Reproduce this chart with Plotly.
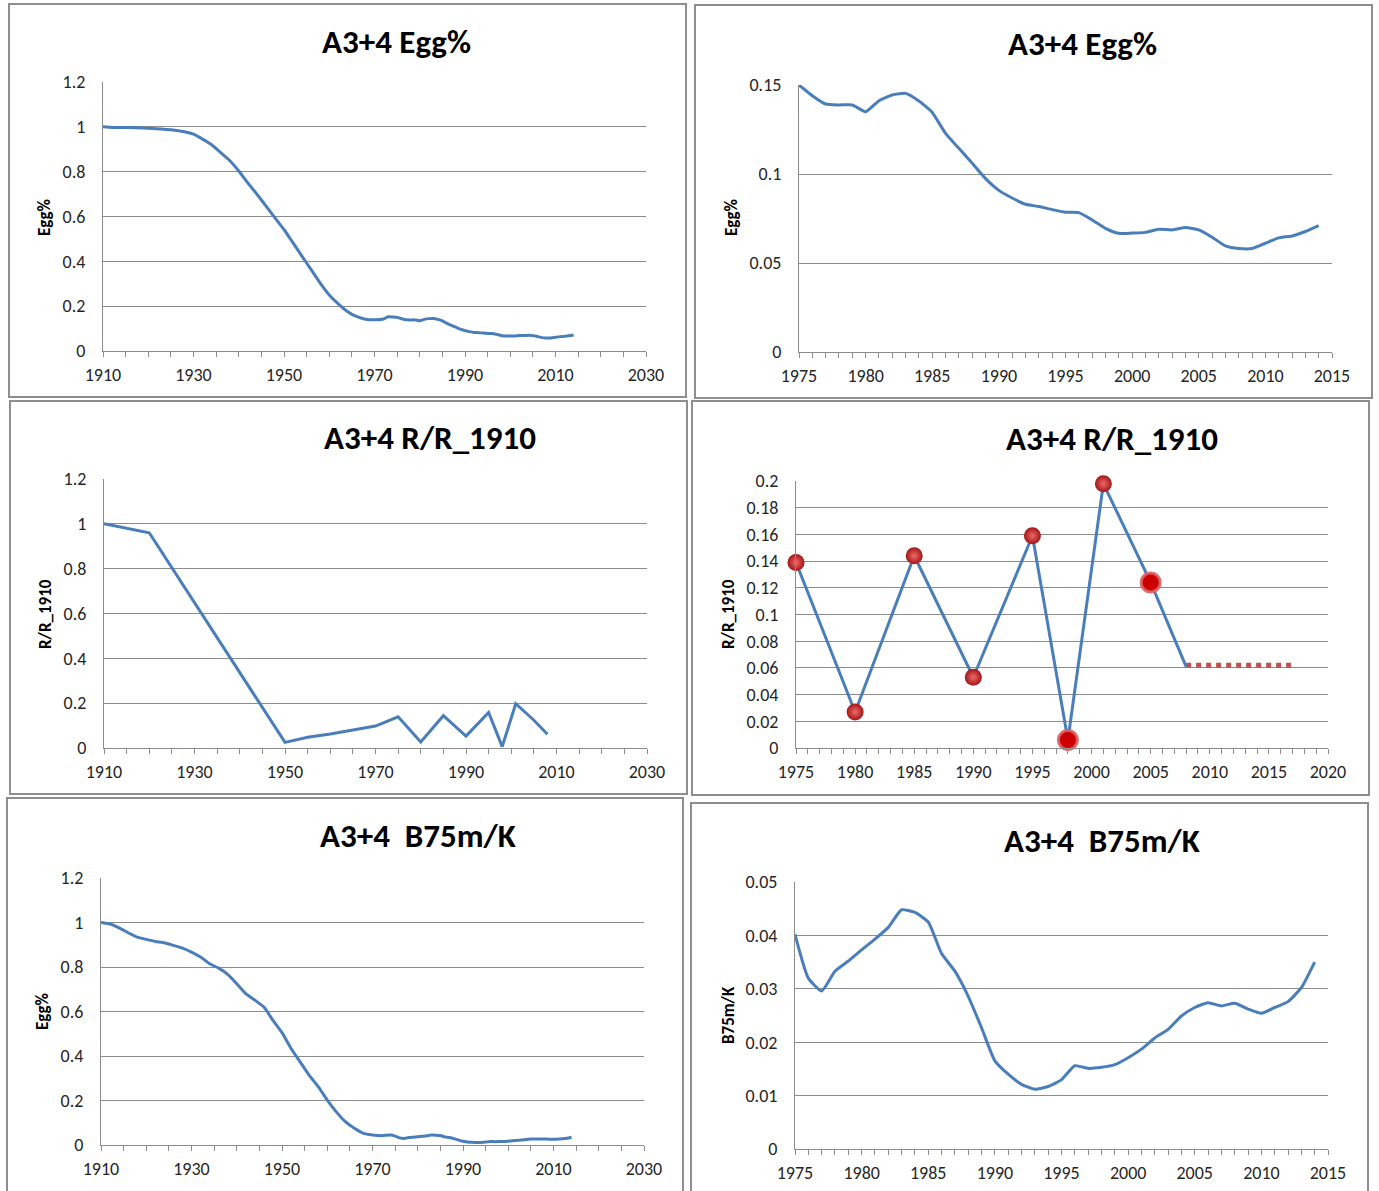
import plotly.graph_objects as go

# ---------------- data ----------------
# Egg% (relative to 1910), early part read every ~2 years
egg_years_early = [1910, 1912, 1915, 1920, 1923, 1925, 1928, 1930, 1932, 1934, 1936, 1938,
                   1940, 1942, 1944, 1946, 1948, 1950, 1952, 1954, 1956, 1958, 1960, 1962,
                   1964, 1966, 1968, 1970, 1972, 1973, 1974]
egg_vals_early = [1.0, 0.997, 0.997, 0.994, 0.99, 0.987, 0.978, 0.967, 0.945, 0.92, 0.885, 0.85,
                  0.803, 0.75, 0.70, 0.647, 0.594, 0.542, 0.482, 0.422, 0.363, 0.303, 0.25, 0.21,
                  0.176, 0.154, 0.142, 0.139, 0.143, 0.153, 0.152]
egg_years_recent = list(range(1975, 2015))
egg_vals_recent = [0.150, 0.144, 0.1393, 0.1388, 0.1388, 0.135, 0.1412, 0.1444, 0.1453, 0.141,
                   0.1346, 0.1228, 0.1144, 0.106, 0.0974, 0.0908, 0.0865, 0.083, 0.0817, 0.080,
                   0.0785, 0.0783, 0.0742, 0.0695, 0.0667, 0.0668, 0.0672, 0.069, 0.0686, 0.0699,
                   0.0686, 0.0645, 0.0596, 0.0581, 0.0581, 0.0611, 0.0641, 0.0652, 0.0677, 0.071]

# R/R_1910
rr_years_early = [1910, 1920, 1950, 1955, 1960, 1965, 1970]
rr_vals_early = [1.0, 0.96, 0.025, 0.048, 0.062, 0.079, 0.098]
rr_years_recent = [1975, 1980, 1985, 1990, 1995, 1998, 2001, 2005, 2008]
rr_vals_recent = [0.139, 0.027, 0.144, 0.053, 0.159, 0.006, 0.198, 0.124, 0.061]
rr_marker_years = [1975, 1980, 1985, 1990, 1995, 1998, 2001, 2005]
rr_marker_vals = [0.139, 0.027, 0.144, 0.053, 0.159, 0.006, 0.198, 0.124]
rr_flat_marker_years = [1998, 2005]
rr_dotted_years = [2008, 2017]
rr_dotted_vals = [0.062, 0.062]

# B75m/K
b75_years_early = [1910, 1912, 1914, 1916, 1918, 1920, 1922, 1924, 1926, 1928, 1930, 1932,
                   1934, 1936, 1938, 1940, 1942, 1944, 1946, 1948, 1950, 1952, 1954, 1956,
                   1958, 1960, 1962, 1964, 1966, 1968, 1970, 1972, 1974]
b75_vals_early = [1.0, 0.993, 0.976, 0.954, 0.934, 0.924, 0.915, 0.909, 0.897, 0.885, 0.867, 0.845,
                  0.815, 0.795, 0.767, 0.725, 0.68, 0.651, 0.62, 0.56, 0.505, 0.434, 0.374, 0.314,
                  0.262, 0.202, 0.149, 0.105, 0.075, 0.052, 0.045, 0.042, 0.045]
b75_years_recent = list(range(1975, 2015))
b75_vals_recent = [0.0402, 0.0320, 0.0296, 0.0333, 0.0352, 0.0373, 0.0393, 0.0415, 0.0448, 0.0443,
                   0.0425, 0.0366, 0.0333, 0.0286, 0.0227, 0.0165, 0.0140, 0.0121, 0.0112, 0.0117,
                   0.0130, 0.0156, 0.0151, 0.0153, 0.0158, 0.0171, 0.0187, 0.0208, 0.0224, 0.0249,
                   0.0265, 0.0274, 0.0268, 0.0273, 0.0262, 0.0254, 0.0265, 0.0276, 0.0302, 0.0350]

titles = ["A3+4 Egg%", "A3+4 Egg%", "A3+4 R/R_1910", "A3+4 R/R_1910", "A3+4  B75m/K", "A3+4  B75m/K"]
ytitles = ["Egg%", "Egg%", "R/R_1910", "R/R_1910", "Egg%", "B75m/K"]

# ---------------- layout helpers ----------------
W, H = 1379, 1191
BLUE = '#4A7EBB'
GRID = '#8C8C8C'
BORDER = '#8E8E8E'
FONT = 'Calibri, Carlito, Lato, sans-serif'
TXT = '#262626'


def px_x(x):
    return x / W


def px_y(y):
    return 1 - y / H


# plot-area pixel boxes (left, top, right, bottom)
plot_boxes = [
    (103, 82, 646, 351),
    (799, 85, 1332, 352),
    (104, 479, 647, 748),
    (796, 481, 1328, 748),
    (101, 878, 644, 1145),
    (795, 882, 1328, 1149),
]
border_boxes = [
    (9, 4, 686, 397),
    (695, 5, 1372, 398),
    (10, 401, 687, 794),
    (692, 401, 1369, 795),
    (7, 798, 683, 1196),
    (691, 803, 1368, 1196),
]
title_pos = [(396, 42), (1082, 44), (430, 438), (1112, 439), (418, 836), (1102, 841)]
ytitle_pos = [(45, 217), (731, 218), (45, 614), (728, 614), (42, 1012), (728, 1015)]

x_ranges = [(1910, 2030), (1975, 2015), (1910, 2030), (1975, 2020), (1910, 2030), (1975, 2015)]
x_dticks = [20, 5, 20, 5, 20, 5]
x_minor = [5, 1, 5, 1, 5, 1]
y_ranges = [(0, 1.2), (0, 0.15), (0, 1.2), (0, 0.2), (0, 1.2), (0, 0.05)]
y_dticks = [0.2, 0.05, 0.2, 0.02, 0.2, 0.01]
smooth = [True, True, False, False, True, True]

fig = go.Figure()

series = [
    (egg_years_early + egg_years_recent, egg_vals_early + egg_vals_recent),
    (egg_years_recent, egg_vals_recent),
    (rr_years_early + rr_years_recent, rr_vals_early + rr_vals_recent),
    (rr_years_recent, rr_vals_recent),
    (b75_years_early + b75_years_recent, b75_vals_early + b75_vals_recent),
    (b75_years_recent, b75_vals_recent),
]

for i, (xs, ys) in enumerate(series):
    ax = '' if i == 0 else str(i + 1)
    if i == 3:
        fig.add_trace(go.Scatter(x=rr_dotted_years, y=rr_dotted_vals, mode='lines',
                                 line=dict(color='#C0504D', width=5, dash='5px,5px'),
                                 xaxis='x' + ax, yaxis='y' + ax, showlegend=False,
                                 hoverinfo='skip'))
    line = dict(color=BLUE, width=3)
    if smooth[i]:
        line.update(shape='spline', smoothing=0.5)
    fig.add_trace(go.Scatter(x=xs, y=ys, mode='lines', line=line,
                             xaxis='x' + ax, yaxis='y' + ax, showlegend=False))
    if i == 3:
        ball_x = [x for x in rr_marker_years if x not in rr_flat_marker_years]
        ball_y = [v for x, v in zip(rr_marker_years, rr_marker_vals) if x not in rr_flat_marker_years]
        flat_x = [x for x in rr_marker_years if x in rr_flat_marker_years]
        flat_y = [v for x, v in zip(rr_marker_years, rr_marker_vals) if x in rr_flat_marker_years]
        fig.add_trace(go.Scatter(x=ball_x, y=ball_y, mode='markers', cliponaxis=False,
                                 marker=dict(size=17, color='#A31515',
                                             gradient=dict(type='radial', color='#EE6A6A'),
                                             line=dict(width=0)),
                                 xaxis='x' + ax, yaxis='y' + ax, showlegend=False))
        fig.add_trace(go.Scatter(x=flat_x, y=flat_y, mode='markers', cliponaxis=False,
                                 marker=dict(size=19, color='#CC0000',
                                             line=dict(width=3, color='rgba(222,96,96,0.9)')),
                                 xaxis='x' + ax, yaxis='y' + ax, showlegend=False))

layout = dict(
    width=W, height=H,
    margin=dict(l=0, r=0, t=0, b=0, pad=0),
    paper_bgcolor='white', plot_bgcolor='white',
    font=dict(family=FONT, size=18, color=TXT),
    shapes=[], annotations=[],
)

for i in range(6):
    l, t, r, b = plot_boxes[i]
    ax = '' if i == 0 else str(i + 1)
    layout['xaxis' + ax] = dict(
        domain=[px_x(l), px_x(r)], anchor='y' + ax, range=list(x_ranges[i]),
        dtick=x_dticks[i], tick0=x_ranges[i][0], automargin=False,
        showgrid=False, zeroline=False, showline=True, linecolor=GRID, linewidth=1,
        ticks='outside', ticklen=5, tickcolor=GRID, tickwidth=1,
        minor=dict(dtick=x_minor[i], ticks='outside', ticklen=5, tickcolor=GRID, tickwidth=1,
                   showgrid=False),
        tickfont=dict(family=FONT, size=18, color=TXT), ticklabelstandoff=2,
        fixedrange=True,
    )
    layout['yaxis' + ax] = dict(
        domain=[px_y(b), px_y(t)], anchor='x' + ax, range=list(y_ranges[i]),
        dtick=y_dticks[i], tick0=0, automargin=False,
        showgrid=True, gridcolor=GRID, gridwidth=1, zeroline=False,
        showline=True, linecolor=GRID, linewidth=1, ticks='',
        tickfont=dict(family=FONT, size=18, color=TXT), ticklabelstandoff=13,
        fixedrange=True,
    )
    bl, bt, br, bb = border_boxes[i]
    layout['shapes'].append(dict(type='rect', xref='paper', yref='paper',
                                 x0=px_x(bl), x1=px_x(br), y0=px_y(bb), y1=px_y(bt),
                                 line=dict(color=BORDER, width=2), layer='below'))
    cx, cy = title_pos[i]
    layout['annotations'].append(dict(text='<b>%s</b>' % titles[i], xref='paper', yref='paper',
                                      x=px_x(cx), y=px_y(cy), xanchor='center', yanchor='middle',
                                      showarrow=False,
                                      font=dict(family=FONT, size=33, color='black')))
    yx, yy = ytitle_pos[i]
    layout['annotations'].append(dict(text='<b>%s</b>' % ytitles[i], xref='paper', yref='paper',
                                      x=px_x(yx), y=px_y(yy), xanchor='center', yanchor='middle',
                                      showarrow=False, textangle=-90,
                                      font=dict(family=FONT, size=17, color='black')))

fig.update_layout(**layout)
fig.write_html("out.html", config={'displayModeBar': False},
               post_script="document.body.style.margin='0';document.body.style.overflow='hidden';")
